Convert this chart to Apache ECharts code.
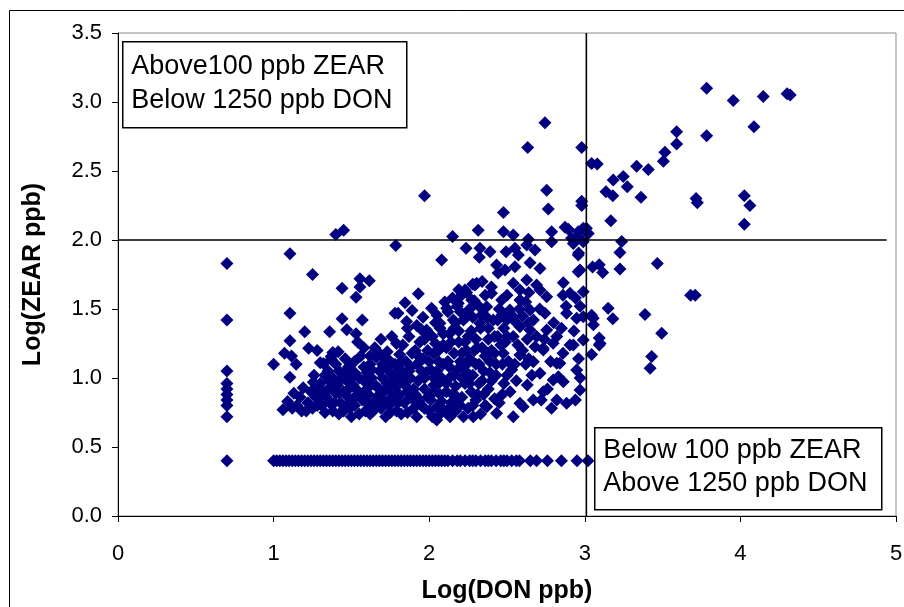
<!DOCTYPE html>
<html><head><meta charset="utf-8">
<script src="https://cdn.jsdelivr.net/npm/echarts@6/dist/echarts.min.js"></script>
<style>html,body{margin:0;padding:0;background:#fff}#c{width:904px;height:607px}</style>
</head><body><div id="c"></div>
<script>
// ---- data (log10 DON ppb, log10 ZEAR ppb) ----
const xTicks = [0, 1, 2, 3, 4, 5];
const yTicks = [0, 0.5, 1, 1.5, 2, 2.5, 3, 3.5];
const zearThreshold = [[0, 2.0], [4.94, 2.0]];      // 100 ppb ZEAR
const donThreshold = [[3.01, 0], [3.01, 3.5]];      // ~1250 ppb DON
const floorZear = 0.40;
const floorDon = [0.70, 1.00, 1.02, 1.04, 1.06, 1.08, 1.10, 1.12, 1.14, 1.16, 1.18, 1.20, 1.22, 1.24, 1.26, 1.28, 1.30, 1.32, 1.34, 1.36, 1.38, 1.40, 1.42, 1.44, 1.46, 1.48, 1.50, 1.52, 1.54, 1.56, 1.58, 1.60, 1.62, 1.64, 1.66, 1.68, 1.70, 1.72, 1.74, 1.76, 1.78, 1.80, 1.82, 1.84, 1.86, 1.88, 1.90, 1.92, 1.94, 1.96, 1.98, 2.00, 2.02, 2.04, 2.06, 2.08, 2.10, 2.12, 2.15, 2.18, 2.20, 2.23, 2.26, 2.28, 2.30, 2.33, 2.36, 2.38, 2.40, 2.43, 2.46, 2.48, 2.50, 2.53, 2.56, 2.58, 2.65, 2.69, 2.76, 2.85, 2.95, 3.02];
const column5ppb = [[0.70, 1.83], [0.70, 1.42], [0.70, 1.05], [0.70, 0.96], [0.70, 0.92], [0.70, 0.88], [0.70, 0.84], [0.70, 0.80], [0.70, 0.72]];
const upperPoints = [[3.783,3.10],[3.954,3.01],[4.147,3.04],[4.30,3.06],[4.32,3.05],[4.087,2.82],[3.783,2.755],[3.59,2.785],[3.59,2.695],[3.515,2.635],[3.505,2.57],[3.333,2.535],[3.408,2.51],[3.044,2.555],[3.08,2.55],[2.98,2.67],[2.744,2.85],[2.633,2.67],[3.183,2.435],[3.247,2.46],[3.273,2.385],[3.136,2.35],[3.18,2.32],[3.361,2.31],[3.715,2.30],[3.723,2.27],[4.025,2.32],[4.061,2.25],[4.025,2.115],[3.167,2.14],[2.755,2.36],[2.765,2.225],[2.98,2.28],[2.98,2.25],[2.477,2.20],[1.97,2.32],[1.40,2.04],[1.45,2.07],[2.15,2.025],[2.315,2.07],[2.477,2.06],[1.785,1.96],[2.08,1.855],[1.105,1.90],[1.25,1.75],[2.54,2.036],[2.637,2.005],[2.787,2.06],[2.873,2.092],[2.894,2.078],[2.787,1.988],[2.915,2.013],[2.958,2.025],[2.99,2.085],[2.958,2.06]];
const rightPoints = [[3.237,1.99],[3.226,1.91],[3.093,1.82],[3.115,1.765],[3.226,1.79],[3.466,1.83],[3.68,1.60],[3.71,1.60],[3.15,1.505],[3.18,1.43],[3.387,1.46],[3.494,1.325],[3.43,1.155],[3.42,1.07],[3.044,1.455],[3.055,1.385],[3.093,1.29],[3.093,1.24],[3.044,1.17],[3.098,1.25],[3.01,2.085],[3.022,2.048],[3.05,1.805],[3.054,1.433]];
const clusterLeft = [
 [1.00,1.10],[1.07,1.18],[1.105,1.27],[1.105,1.47],[1.06,0.77],[1.105,1.005],[1.09,0.83],[1.12,0.78],
 [1.115,1.16],[1.145,1.10],[1.13,0.89],[1.15,0.80],[1.18,0.76],[1.17,0.86],[1.20,1.335],[1.19,0.93],
 [1.225,1.215],[1.255,0.97],[1.28,1.20],[1.30,1.11],[1.22,0.82],[1.25,0.78],[1.27,0.86],[1.29,0.92],[1.24,0.90],[1.21,0.76],[1.28,0.80],
 [1.32,1.105],[1.36,1.335],[1.37,1.155],[1.38,1.185],[1.37,1.135],[1.31,0.80],[1.33,0.75],[1.34,0.86],[1.36,0.93],[1.38,1.00],[1.35,1.05],[1.39,0.82],[1.38,0.76],[1.32,0.90],[1.40,0.89],
 [1.415,1.19],[1.44,1.43],[1.44,1.65],[1.47,1.35],[1.42,0.74],[1.43,0.82],[1.45,0.90],[1.47,0.98],[1.42,1.05],[1.48,1.08],[1.46,1.14],[1.49,0.78],[1.48,0.86],[1.41,0.95],[1.45,0.76],[1.44,1.00],[1.49,0.93],
 [1.53,1.32],[1.53,1.585],[1.555,1.72],[1.555,1.66],[1.57,1.42],[1.50,0.72],[1.52,0.80],[1.54,0.88],[1.51,0.95],[1.55,1.00],[1.58,1.08],[1.52,1.12],[1.56,1.16],[1.59,0.76],[1.57,0.84],[1.60,0.92],[1.58,1.22],[1.52,1.04],[1.55,0.74],[1.58,0.98],[1.54,1.26],
 [1.615,1.705],[1.62,0.74],[1.64,0.82],[1.61,0.88],[1.66,0.94],[1.63,1.00],[1.68,1.05],[1.62,1.10],[1.66,1.15],[1.69,0.78],[1.67,0.87],[1.65,1.22],[1.70,1.00],[1.69,1.28],[1.64,0.76],[1.61,0.81],[1.68,0.92],[1.63,1.06],
 [1.73,1.19],[1.79,1.25],[1.78,1.47],[1.80,1.47],[1.72,0.72],[1.74,0.80],[1.71,0.90],[1.76,0.86],[1.73,0.96],[1.77,1.02],[1.72,1.08],[1.75,1.12],[1.79,0.76],[1.78,0.93],[1.80,1.08],[1.76,1.30],[1.71,0.83],[1.75,0.75],[1.77,0.98],[1.71,1.15],
 [1.845,1.545],[1.89,1.49],[1.855,1.41],[1.82,0.74],[1.84,0.82],[1.81,0.88],[1.86,0.90],[1.83,0.97],[1.88,1.00],[1.82,1.05],[1.85,1.12],[1.89,1.18],[1.83,1.24],[1.87,1.30],[1.90,0.78],[1.88,0.86],[1.86,1.36],[1.81,1.17],[1.86,0.75],[1.84,1.02],[1.88,1.08],
 [1.93,1.61],[1.92,0.72],[1.95,0.80],[1.91,0.88],[1.97,0.92],[1.93,0.98],[1.98,1.04],[1.92,1.10],[1.96,1.14],[1.99,1.20],[1.94,1.26],[1.98,1.32],[1.92,1.38],[1.96,1.44],[2.00,0.76],[1.99,0.86],[1.95,1.05],[1.94,0.84],[1.91,1.20],
 [2.015,1.505],[2.05,1.455],[2.02,0.72],[2.05,0.79],[2.01,0.84],[2.07,0.88],[2.03,0.95],[2.08,1.00],[2.01,1.06],[2.06,1.12],[2.03,1.18],[2.09,1.24],[2.02,1.30],[2.07,1.36],[2.04,1.40],[2.10,0.76],[2.10,1.55],[2.05,1.05],[2.08,0.83],[2.04,1.25],
 [2.12,0.74],[2.14,0.82],[2.11,0.90],[2.17,0.94],[2.13,1.00],[2.18,1.06],[2.12,1.12],[2.16,1.18],[2.19,1.26],[2.13,1.32],[2.17,1.40],[2.12,1.48],[2.18,1.52],[2.15,1.58],[2.20,0.80],[2.19,1.64],[2.155,1.42],[2.17,0.76],[2.15,0.88],[2.11,1.22],
 [2.22,0.72],[2.25,0.78],[2.21,0.86],[2.27,0.90],[2.23,0.96],[2.28,1.02],[2.22,1.08],[2.26,1.14],[2.29,1.20],[2.23,1.26],[2.27,1.34],[2.22,1.42],[2.26,1.50],[2.29,1.56],[2.24,1.62],[2.28,1.68],[2.30,0.84],[2.25,1.03],[2.21,1.18],
 [2.33,0.74],[2.36,0.80],[2.31,0.88],[2.38,0.92],[2.34,0.98],[2.39,1.04],[2.32,1.10],[2.36,1.16],[2.31,1.22],[2.38,1.28],[2.33,1.36],[2.37,1.44],[2.32,1.52],[2.36,1.60],[2.40,1.66],[2.34,1.70],[2.35,1.05],[2.39,1.12]
];
const clusterRight = [
 [2.23,1.638],[2.305,1.686],[2.40,1.614],[2.466,1.565],[2.37,1.517],[2.273,1.565],[2.187,1.541],[2.112,1.505],
 [2.519,1.493],[2.583,1.565],[2.648,1.493],[2.712,1.638],[2.755,1.589],[2.744,1.469],[2.883,1.469],[2.948,1.433],[2.99,1.444],
 [2.755,1.348],[2.82,1.30],[2.905,1.239],[2.99,1.275],[2.68,1.227],[2.733,1.215],[2.82,1.107],[2.948,1.058],
 [2.476,1.179],[2.583,1.167],[2.669,1.118],[2.712,1.034],[2.83,1.009],[2.862,0.973],[2.969,0.913],[2.82,0.841],[2.883,0.817],
 [2.786,0.78],[2.669,0.841],[2.583,0.817],[2.54,0.72],[2.433,0.744],[2.37,0.792],[2.283,0.72],[2.134,0.72],[2.048,0.696],
 [1.983,1.348],[2.069,1.396],[2.24,1.444],[2.326,1.396],[2.412,1.42],[2.498,1.42],[2.54,1.444],[2.583,1.372],[2.648,1.348],
 [2.84,1.107],[2.797,0.986],[2.733,0.90],[2.604,0.792],[2.733,1.203],[2.797,1.251],[2.926,1.239],
 [2.237,1.94],[2.326,1.94],[2.391,1.915],[2.322,1.875],[2.494,1.915],[2.551,1.94],[2.627,1.964],[2.68,1.928],[2.573,1.891],
 [2.433,1.819],[2.487,1.783],[2.551,1.807],[2.648,1.836],[2.712,1.793],[2.443,1.761],[2.627,1.71],[2.54,1.686],[2.583,1.638],[2.69,1.674],[2.294,1.674],[2.209,1.601],
 [2.862,1.69],[2.969,1.783],[2.958,1.891],[2.958,1.77],[2.926,1.975],[2.96,1.905],[2.99,1.988],[2.99,1.625],[2.905,1.615],[2.86,1.60],[2.94,1.58],
 [2.45,0.82],[2.48,0.96],[2.43,1.02],[2.47,1.10],[2.42,1.18],[2.49,1.26],[2.44,1.30],[2.48,1.36],[2.45,1.50],[2.50,1.60],
 [2.52,0.90],[2.56,0.98],[2.53,1.06],[2.57,1.24],[2.54,1.30],[2.60,1.45],[2.62,1.55],[2.64,1.62],
 [2.63,0.95],[2.66,1.02],[2.62,1.10],[2.63,1.28],[2.67,1.42],[2.71,1.50],[2.76,0.92],[2.72,0.84],[2.78,1.12],[2.80,1.40],[2.85,1.36],[2.88,1.52],[2.93,1.34],
 [2.94,0.84],[2.97,1.00],[2.96,1.14],[2.86,1.18],[2.97,1.52]
];
const clusterFill = [
 [1.97,1.00],[1.93,1.16],[1.97,1.28],[1.95,1.35],[2.00,1.12],[2.03,1.00],[2.06,1.20],[2.09,1.10],[2.06,0.96],[2.09,1.32],
 [2.13,1.08],[2.14,1.26],[2.16,1.36],[2.20,1.12],[2.19,1.34],[2.21,1.00],[2.24,1.10],[2.24,1.20],[2.25,1.30],[2.20,1.48],
 [2.28,1.44],[2.30,1.28],[2.30,1.10],[2.34,1.22],[2.34,1.46],[2.38,1.36],[2.40,1.20],[2.40,0.98],[2.42,1.30],[2.44,1.42],
 [2.46,1.24],[2.47,1.46],[2.50,1.30],[2.51,1.12],[2.50,1.02],[2.47,0.88],[2.42,0.85],[2.35,0.88],[2.28,0.80],[2.18,0.86],
 [2.13,0.78],[2.07,0.74],[1.97,0.78],[1.90,0.92],[1.87,1.05],[1.85,0.94],[1.80,0.98],[1.82,1.12],[1.75,1.04],[1.70,1.10],
 [1.68,1.18],[1.62,1.16],[1.60,1.04],[1.58,0.89],[1.53,0.92],[1.50,1.00],[1.47,0.80],[1.46,1.04],[1.40,1.10],[1.36,0.98],
 [1.33,1.02],[1.30,0.96],[1.26,1.02],[1.30,0.86],[1.36,0.82],[1.42,0.89],[1.51,0.85],[1.62,0.96],[1.72,0.98],[1.78,1.10],
 [1.66,0.80],[1.74,0.92],[1.80,0.82],[1.92,0.82],[2.03,0.90],[2.11,0.96],[2.16,1.02],[2.26,0.96],[2.32,0.96],[2.43,1.10],
 [2.56,1.40],[2.58,1.50],[2.64,1.40],[2.69,1.30],[2.74,1.28],[2.60,1.20],[2.64,1.14],[2.55,1.10]
];

// assemble
const allPoints = []
  .concat(floorDon.map(d => [d, floorZear]))
  .concat(column5ppb, upperPoints, rightPoints, clusterLeft, clusterRight, clusterFill);

const chart = echarts.init(document.getElementById('c'), null, {renderer: 'canvas'});
const tickFont = {fontFamily: 'Liberation Sans, Arial, sans-serif', fontSize: 22, color: '#000'};
chart.setOption({
  animation: false,
  backgroundColor: '#fff',
  grid: {left: 118, top: 33, right: 8, bottom: 91, show: true, borderColor: '#8c8c8c', borderWidth: 1,
         containLabel: false, outerBoundsMode: 'none'},
  xAxis: {
    type: 'value', min: 0, max: 5, interval: 1,
    name: 'Log(DON ppb)', nameLocation: 'middle', nameGap: 63,
    nameTextStyle: {fontFamily: 'Liberation Sans, Arial, sans-serif', fontSize: 25, fontWeight: 'bold', color: '#000'},
    axisLine: {lineStyle: {color: '#000', width: 1}},
    axisTick: {show: true, length: 6, lineStyle: {color: '#000'}},
    axisLabel: Object.assign({margin: 27, formatter: v => String(v)}, tickFont),
    splitLine: {show: false}
  },
  yAxis: {
    type: 'value', min: 0, max: 3.5, interval: 0.5,
    name: 'Log(ZEAR ppb)', nameLocation: 'middle', nameGap: 72,
    nameTextStyle: {fontFamily: 'Liberation Sans, Arial, sans-serif', fontSize: 25, fontWeight: 'bold', color: '#000'},
    axisLine: {show: true, lineStyle: {color: '#000', width: 1}},
    axisTick: {show: true, length: 6, lineStyle: {color: '#000'}},
    axisLabel: Object.assign({margin: 16, formatter: v => v.toFixed(1)}, tickFont),
    splitLine: {show: false}
  },
  series: [
    {type: 'scatter', data: allPoints, symbol: 'diamond', symbolSize: 13,
     itemStyle: {color: '#000080', opacity: 1}, z: 3},
    {type: 'line', data: zearThreshold, symbol: 'none', lineStyle: {color: '#000', width: 1.6}, z: 4},
    {type: 'line', data: donThreshold, symbol: 'none', lineStyle: {color: '#000', width: 1.6}, z: 4}
  ],
  graphic: [
    {type: 'rect', shape: {x: 9.5, y: 10.5, width: 920, height: 620}, style: {fill: 'none', stroke: '#000', lineWidth: 1}, z: 0, silent: true},
    {type: 'group', left: 122, top: 41, z: 10, children: [
      {type: 'rect', shape: {x: 0.5, y: 0.5, width: 284, height: 86}, style: {fill: '#fff', stroke: '#000', lineWidth: 1.5}},
      {type: 'text', x: 9, y: 8, style: {text: 'Above100 ppb ZEAR\nBelow 1250 ppb DON', fontFamily: 'Liberation Sans, Arial, sans-serif', fontSize: 27, lineHeight: 34, fill: '#000'}}
    ]},
    {type: 'group', left: 594, top: 427, z: 10, children: [
      {type: 'rect', shape: {x: 0.5, y: 0.5, width: 287, height: 82}, style: {fill: '#fff', stroke: '#000', lineWidth: 1.5}},
      {type: 'text', x: 9, y: 7, style: {text: 'Below 100 ppb ZEAR\nAbove 1250 ppb DON', fontFamily: 'Liberation Sans, Arial, sans-serif', fontSize: 27, lineHeight: 33, fill: '#000'}}
    ]}
  ]
});
</script></body></html>
